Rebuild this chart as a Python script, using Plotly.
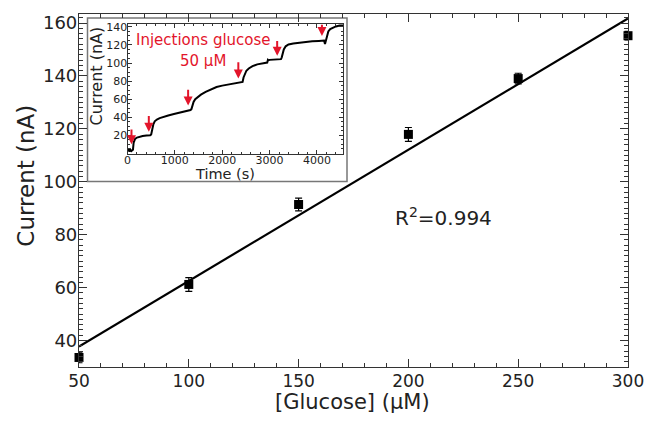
import numpy as np
import plotly.graph_objects as go

# Main calibration data
glucose = [50, 100, 150, 200, 250, 300]
current = [33.6, 61.2, 91.4, 117.9, 139.0, 155.2]
current_err = [2.0, 2.6, 2.4, 2.6, 2.0, 1.6]
r2_label = "R<sup>2</sup>=0.994"

# Inset amperometric trace
time_s = [0, 20, 40, 60, 80, 100, 115, 130, 160, 200, 250, 320, 400, 480, 500,
          520, 545, 575, 620, 680, 760, 860, 980, 1100, 1220, 1330, 1350,
          1370, 1395, 1430, 1480, 1550, 1650, 1760, 1880, 2000, 2120, 2250, 2400, 2430,
          2450, 2475, 2510, 2560, 2640, 2740, 2860, 2950, 2965, 2975, 3000, 3080, 3160, 3240, 3255,
          3275, 3300, 3340, 3400, 3500, 3620, 3760, 3900, 4040, 4150, 4170, 4185, 4200,
          4215, 4240, 4280, 4330, 4400, 4480, 4560]
time_current = [3, 5, 2, 4, 2.5, 3.5, 4, 12, 16, 17.5, 18.5, 19.2, 19.8, 20, 21,
                27, 32, 35.5, 37.5, 39, 40.5, 42, 43.5, 45, 46.5, 48, 49,
                53, 57, 60, 62.5, 65, 68, 71, 73.5, 75, 76, 77, 78, 79,
                84, 88, 91.5, 94, 96.5, 98.5, 100, 100.5, 103.5, 103, 103.5, 104, 104, 104.3, 106,
                111, 115, 118.5, 120.5, 121.5, 122.5, 123.5, 124, 124.5, 125, 121, 124, 127,
                131, 135, 137.5, 139, 140.5, 141.5, 141.5]

# Injection arrows: time, tail current, tip current
inj_time = [84, 450, 1280, 2340, 3160, 4105]
inj_tail = [28, 43, 72, 102.5, 126, 144]
inj_tip = [10, 24, 53, 83, 108, 130]

red = "#e3152b"
font_family = "DejaVu Sans"

W, H = 655, 422
ML, MR, MT, MB = 79, 27, 11, 55
PW, PH = W - ML - MR, H - MT - MB


def px(xp):
    return (xp - ML) / PW


def py(yp):
    return (H - MB - yp) / PH


fig = go.Figure()

# linear fit
coef = np.polyfit(glucose, current, 1)
fit_x = np.array([glucose[0], glucose[-1]])
fit_y = np.polyval(coef, fit_x)
fig.add_trace(go.Scatter(x=fit_x, y=fit_y, mode="lines",
                         line=dict(color="black", width=2.2),
                         showlegend=False, xaxis="x", yaxis="y"))

fig.add_trace(go.Scatter(x=glucose, y=current, mode="markers",
                         marker=dict(symbol="square", size=9, color="black"),
                         error_y=dict(type="data", array=current_err, visible=True,
                                      color="black", thickness=1.2, width=3.5),
                         showlegend=False, cliponaxis=False, xaxis="x", yaxis="y"))

fig.add_trace(go.Scatter(x=time_s, y=time_current, mode="lines",
                         line=dict(color="black", width=2),
                         showlegend=False, xaxis="x2", yaxis="y2"))

axis_common = dict(showline=True, linecolor="#333", linewidth=1.2, mirror="allticks",
                   ticks="inside", showgrid=False, zeroline=False)

fig.update_layout(
    width=W, height=H,
    margin=dict(l=ML, r=MR, t=MT, b=MB),
    paper_bgcolor="white", plot_bgcolor="white",
    font=dict(family=font_family, color="#222"),
    xaxis=dict(range=[50, 300], tickvals=[50, 100, 150, 200, 250, 300],
               ticklen=8, tickwidth=1, tickcolor="#333",
               minor=dict(dtick=10, tick0=0, ticks="inside", ticklen=4, tickcolor="#333"),
               tickfont=dict(size=17), ticklabelstandoff=-2,
               **axis_common),
    yaxis=dict(range=[30, 163.4], tickvals=[40, 60, 80, 100, 120, 140, 160],
               ticklen=8, tickwidth=1, tickcolor="#333",
               minor=dict(dtick=2, tick0=0, ticks="inside", ticklen=4, tickcolor="#333"),
               tickfont=dict(size=18), ticklabelstandoff=-3,
               **axis_common),
    xaxis2=dict(domain=[px(127.5), px(343)], anchor="y2", range=[0, 4550],
                tickvals=[0, 1000, 2000, 3000, 4000], ticklen=4, tickcolor="#333",
                minor=dict(dtick=200, ticks="inside", ticklen=2, tickcolor="#333"),
                tickfont=dict(size=11), ticklabelstandoff=-4,
                **axis_common),
    yaxis2=dict(domain=[py(152), py(21)], anchor="x2", range=[-0.5, 143.3],
                tickvals=[20, 40, 60, 80, 100, 120, 140], ticklen=4, tickcolor="#333",
                minor=dict(dtick=5, ticks="inside", ticklen=2, tickcolor="#333"),
                tickfont=dict(size=11), ticklabelstandoff=-3,
                **axis_common),
)

# inset frame
fig.add_shape(type="rect", xref="paper", yref="paper",
              x0=px(87.5), x1=px(347), y0=py(180), y1=py(15),
              line=dict(color="#777", width=1.5), fillcolor="white", layer="below")

annotations = []
for t, a, b in zip(inj_time, inj_tail, inj_tip):
    annotations.append(dict(x=t, y=b, ax=t, ay=a, xref="x2", yref="y2",
                            axref="x2", ayref="y2", showarrow=True,
                            arrowhead=2, arrowsize=0.9, arrowwidth=2, arrowcolor=red,
                            text=""))


def label(xp, yp, text, size, color="#222", angle=0):
    return dict(x=px(xp), y=py(yp), xref="paper", yref="paper", showarrow=False,
                xanchor="center", yanchor="middle", text=text, textangle=angle,
                font=dict(size=size, color=color))


annotations += [
    label(203, 37, "Injections glucose", 15, red),
    label(203, 58, "50 μM", 15, red),
    dict(x=216, y=86.8, xref="x", yref="y", showarrow=False,
         xanchor="center", yanchor="middle",
         text=r2_label, font=dict(size=20, color="#222")),
    # main axis titles
    label(352, 402, "[Glucose] (μM)", 21),
    label(26, 174, "Current (nA)", 23, angle=-90),
    # inset axis titles
    label(225, 172.5, "Time (s)", 14.5),
    label(96, 74, "Current (nA)", 16, angle=-90),
]
fig.update_layout(annotations=annotations)

fig.write_html("out.html")
